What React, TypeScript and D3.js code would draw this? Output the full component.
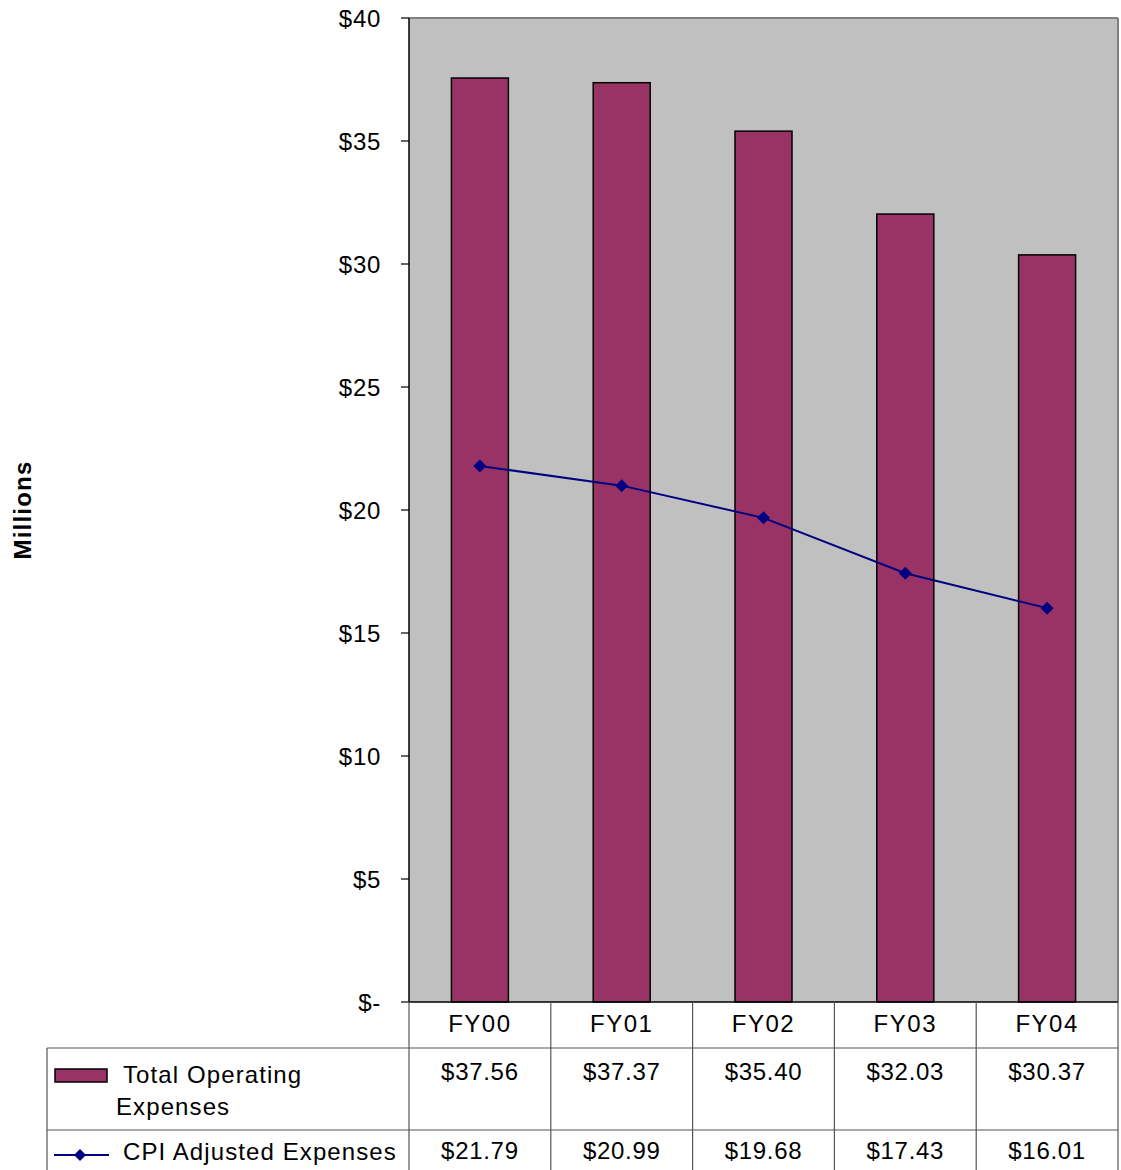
import React from "react";
import * as d3 from "d3";

const categories = ["FY00", "FY01", "FY02", "FY03", "FY04"];
const totalOperating = [37.56, 37.37, 35.4, 32.03, 30.37];
const cpiAdjusted = [21.79, 20.99, 19.68, 17.43, 16.01];
const yTicks = [0, 5, 10, 15, 20, 25, 30, 35, 40];
const seriesNames = ["Total Operating", "Expenses", "CPI Adjusted Expenses"];

const W = 1121, H = 1170;
const left = 409, right = 1118, top = 18, bottom = 1002;
const font = "'Liberation Sans', Arial, sans-serif";

export default function App() {
  const x = d3.scaleBand<string>().domain(categories).range([left, right]);
  const y = d3.scaleLinear().domain([0, 40]).range([bottom, top]);
  const barW = 57;
  const line = d3
    .line<number>()
    .x((_, i) => (x(categories[i]) as number) + x.bandwidth() / 2)
    .y((d) => y(d));
  const fmtTick = (v: number) => (v === 0 ? "$-" : `$${v}`);
  const row1 = 1048, row2 = 1130;
  const tableLine = "#555";
  const fs = 24;
  const ls = 0.7;
  const diamond = (cx: number, cy: number, r: number) =>
    `M${cx},${cy - r}L${cx + r},${cy}L${cx},${cy + r}L${cx - r},${cy}Z`;

  return (
    <svg width={W} height={H} style={{ position: "absolute", left: 0, top: 0 }} fontFamily={font}>
      <rect x={0} y={0} width={W} height={H} fill="#fff" />
      <rect x={left} y={top} width={right - left} height={bottom - top} fill="#C0C0C0" />
      <line x1={left} y1={top} x2={right} y2={top} stroke="#808080" strokeWidth={2} />
      <line x1={right} y1={top} x2={right} y2={bottom} stroke="#808080" strokeWidth={2} />
      {categories.map((c, i) => {
        const cx = (x(c) as number) + x.bandwidth() / 2;
        return (
          <rect
            key={c}
            x={cx - barW / 2}
            y={y(totalOperating[i])}
            width={barW}
            height={y(0) - y(totalOperating[i])}
            fill="#993366"
            stroke="#000"
            strokeWidth={1.5}
          />
        );
      })}
      <path d={line(cpiAdjusted) || ""} fill="none" stroke="#000080" strokeWidth={2} />
      {cpiAdjusted.map((v, i) => {
        const cx = (x(categories[i]) as number) + x.bandwidth() / 2;
        return <path key={i} d={diamond(cx, y(v), 6.5)} fill="#000080" />;
      })}
      {/* y axis */}
      <line x1={left} y1={top} x2={left} y2={bottom} stroke="#000" strokeWidth={1.5} />
      {yTicks.map((t) => (
        <g key={t}>
          <line x1={401} x2={left} y1={y(t)} y2={y(t)} stroke="#000" strokeWidth={1.2} />
          <text x={381} y={y(t) + 9} textAnchor="end" fontSize={fs} letterSpacing={ls} fill="#000">
            {fmtTick(t)}
          </text>
        </g>
      ))}
      <text
        transform={`translate(31,${510}) rotate(-90)`}
        textAnchor="middle"
        fontSize={24}
        letterSpacing={1.2}
        fontWeight="bold"
      >
        Millions
      </text>
      {/* table */}
      <line x1={left} y1={bottom} x2={right} y2={bottom} stroke="#000" strokeWidth={1.5} />
      <line x1={47} y1={row1} x2={right} y2={row1} stroke={tableLine} strokeWidth={1.2} />
      <line x1={47} y1={row2} x2={right} y2={row2} stroke={tableLine} strokeWidth={1.2} />
      <line x1={47} y1={row1} x2={47} y2={H} stroke={tableLine} strokeWidth={1.2} />
      {[...categories.map((c) => x(c) as number), right].map((vx, i) => (
        <line key={i} x1={vx} y1={bottom} x2={vx} y2={H} stroke={tableLine} strokeWidth={1.2} />
      ))}
      {categories.map((c, i) => {
        const cx = (x(c) as number) + x.bandwidth() / 2;
        return (
          <g key={c} fontSize={fs} letterSpacing={ls} textAnchor="middle">
            <text x={cx} y={1032} letterSpacing={1.5}>{c}</text>
            <text x={cx} y={1080}>{`$${totalOperating[i].toFixed(2)}`}</text>
            <text x={cx} y={1159}>{`$${cpiAdjusted[i].toFixed(2)}`}</text>
          </g>
        );
      })}
      {/* legend */}
      <rect x={55} y={1069} width={52} height={13} fill="#993366" stroke="#000" strokeWidth={1.5} />
      <g fontSize={fs} letterSpacing={1.1}>
        <text x={123} y={1083}>{seriesNames[0]}</text>
        <text x={116} y={1115}>{seriesNames[1]}</text>
        <text x={123} y={1160}>{seriesNames[2]}</text>
      </g>
      <line x1={54} y1={1155} x2={109} y2={1155} stroke="#000080" strokeWidth={2} />
      <path d={diamond(80, 1155, 6)} fill="#000080" />
    </svg>
  );
}
